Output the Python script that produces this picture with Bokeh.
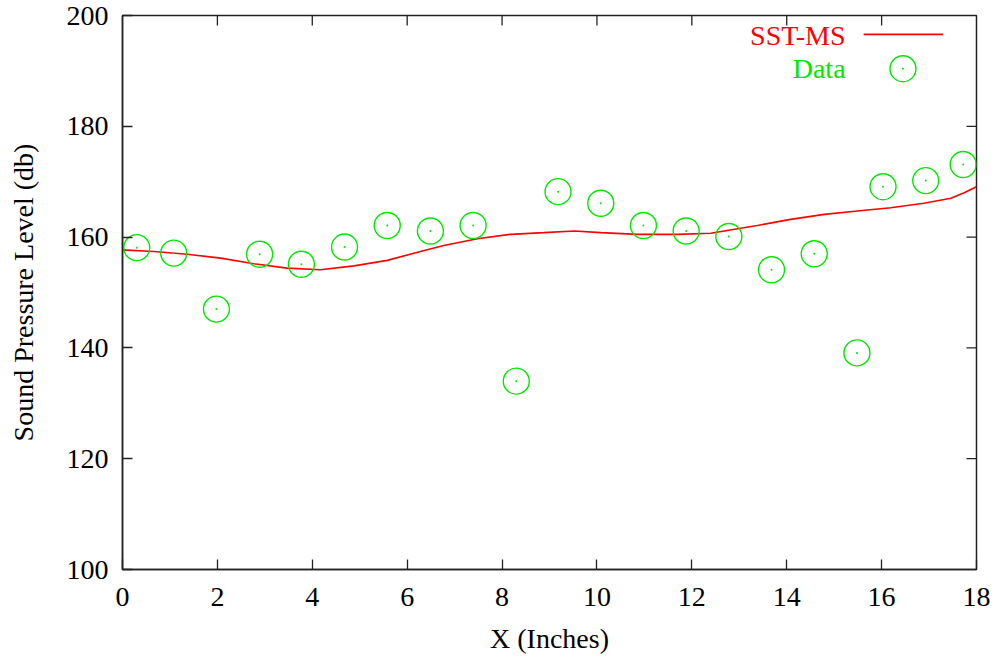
from bokeh.plotting import figure
from bokeh.models import Range1d, Label, FixedTicker
from bokeh.embed import file_html
from bokeh.resources import INLINE

# ---- data ----
data_x = [0.3, 1.08, 1.98, 2.89, 3.77, 4.68, 5.58, 6.49, 7.39, 8.3, 9.18,
          10.08, 10.98, 11.88, 12.78, 13.68, 14.58, 15.48, 16.03, 16.93, 17.72]
data_y = [158.1, 157.1, 147.0, 156.9, 155.1, 158.2, 162.1, 161.1, 162.1, 134.0, 168.2,
          166.1, 162.1, 161.1, 160.1, 154.1, 157.0, 139.1, 169.1, 170.2, 173.1]

sst_x = [0.0, 0.66, 1.36, 2.07, 2.77, 3.47, 4.17, 4.88, 5.58, 6.28, 6.77, 7.48,
         8.18, 8.88, 9.52, 10.08, 10.85, 11.7, 12.4, 12.68, 13.38, 14.08, 14.79,
         15.49, 16.19, 16.89, 17.46, 17.74, 18.0]
sst_y = [157.7, 157.4, 156.9, 156.2, 155.2, 154.4, 154.1, 154.8, 155.8, 157.4, 158.5, 159.7,
         160.5, 160.8, 161.1, 160.8, 160.5, 160.5, 160.7, 161.1, 162.1, 163.2, 164.1,
         164.7, 165.3, 166.1, 167.0, 168.0, 169.1]

x_ticks = [0, 2, 4, 6, 8, 10, 12, 14, 16, 18]
y_ticks = [100, 120, 140, 160, 180, 200]

x_label = "X (Inches)"
y_label = "Sound Pressure Level (db)"
legend_names = ["SST-MS", "Data"]

RED = "#ff0000"
GREEN = "#00e800"
FONT = "Liberation Serif"
FS = "28px"
AXC = "#222222"

XMIN, XMAX, YMIN, YMAX = 0, 18, 100, 200
FW, FH = 854, 554

p = figure(frame_width=FW, frame_height=FH,
           min_border_left=122, min_border_right=19,
           min_border_top=15, min_border_bottom=92,
           x_range=Range1d(XMIN, XMAX), y_range=Range1d(YMIN, YMAX),
           output_backend="svg", toolbar_location=None,
           background_fill_color="white", border_fill_color="white")
p.grid.visible = False
p.outline_line_color = AXC
p.outline_line_width = 1.5

for ax, ticks in ((p.xaxis[0], x_ticks), (p.yaxis[0], y_ticks)):
    ax.ticker = FixedTicker(ticks=ticks)
    ax.major_tick_in = 10
    ax.major_tick_out = 0
    ax.minor_tick_in = 0
    ax.minor_tick_out = 0
    ax.major_tick_line_color = AXC
    ax.major_tick_line_width = 1.3
    ax.axis_line_color = AXC
    ax.axis_line_width = 1.5
    ax.major_label_text_font = FONT
    ax.major_label_text_font_size = FS
    ax.major_label_text_color = "black"
    ax.axis_label_text_font = FONT
    ax.axis_label_text_font_size = FS
    ax.axis_label_text_font_style = "normal"
    ax.axis_label_text_color = "black"

p.xaxis[0].axis_label = x_label
p.yaxis[0].axis_label = y_label
p.xaxis[0].major_label_standoff = 18
p.xaxis[0].axis_label_standoff = 14
p.yaxis[0].major_label_standoff = 14
p.yaxis[0].axis_label_standoff = 25

# mirrored inward ticks on top and right borders (10 px long)
tx = 10 * (XMAX - XMIN) / FW
ty = 10 * (YMAX - YMIN) / FH
top_t = x_ticks[1:-1]
right_t = y_ticks[1:-1]
p.segment(x0=top_t, y0=[YMAX] * len(top_t), x1=top_t, y1=[YMAX - ty] * len(top_t),
          line_color=AXC, line_width=1.3)
p.segment(x0=[XMAX] * len(right_t), y0=right_t, x1=[XMAX - tx] * len(right_t), y1=right_t,
          line_color=AXC, line_width=1.3)

# series
p.line(sst_x, sst_y, line_color=RED, line_width=1.6)
p.scatter(data_x, data_y, marker="circle", size=26, fill_color=None,
          line_color=GREEN, line_width=1.4)
p.scatter(data_x, data_y, marker="circle", size=2, fill_color=GREEN, line_color=None)

# legend (text left of sample, gnuplot style)
LEG_TEXT_X = 15.24
LEG_Y = [196.3, 190.5]
LEG_LINE_X = [15.62, 17.29]
LEG_SYM_X = 16.45
p.add_layout(Label(x=LEG_TEXT_X, y=LEG_Y[0], text=legend_names[0], text_align="right",
                   text_baseline="middle", text_font=FONT, text_font_size=FS,
                   text_color=RED))
p.add_layout(Label(x=LEG_TEXT_X, y=LEG_Y[1], text=legend_names[1], text_align="right",
                   text_baseline="middle", text_font=FONT, text_font_size=FS,
                   text_color=GREEN))
p.line(LEG_LINE_X, [LEG_Y[0] + 0.3, LEG_Y[0] + 0.3], line_color=RED, line_width=1.6)
p.scatter([LEG_SYM_X], [LEG_Y[1] - 0.1], marker="circle", size=26, fill_color=None,
          line_color=GREEN, line_width=1.4)
p.scatter([LEG_SYM_X], [LEG_Y[1] - 0.1], marker="circle", size=2, fill_color=GREEN,
          line_color=None)

open("out.html", "w").write(file_html(p, INLINE))
